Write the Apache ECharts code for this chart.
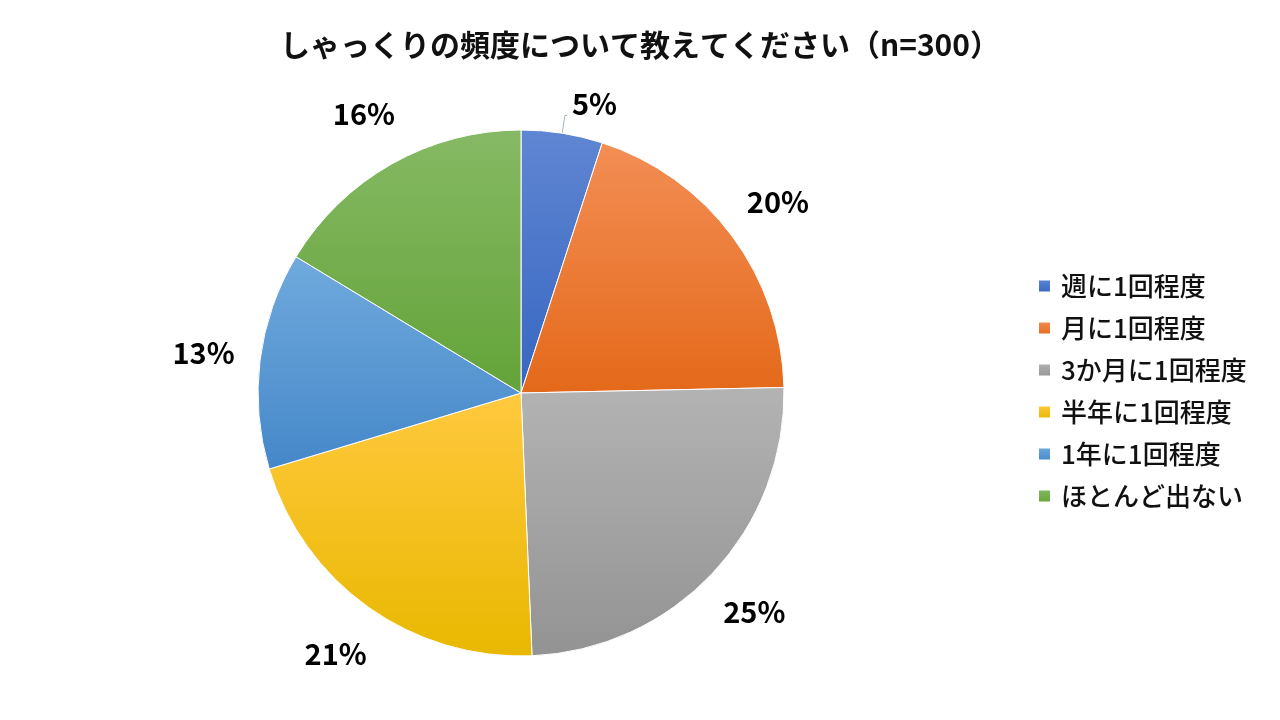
<!DOCTYPE html>
<html>
<head>
<meta charset="utf-8">
<script src="https://cdn.jsdelivr.net/npm/echarts@6/dist/echarts.min.js"></script>
<style>
html,body{margin:0;padding:0;background:#fff;}
#chart{width:1280px;height:720px;}
</style>
</head>
<body>
<div id="chart"></div>
<script>
var titleText = 'しゃっくりの頻度について教えてください（n=300）';
var categories = ['週に1回程度', '月に1回程度', '3か月に1回程度', '半年に1回程度', '1年に1回程度', 'ほとんど出ない'];
// respondent counts (n = 300)
var values = [15, 59, 74, 63, 40, 49];
var topColors = ['#5F86D2', '#F38E55', '#B3B3B3', '#FFC93E', '#70AADD', '#86B964'];
var bottomColors = ['#3766C2', '#E4691A', '#939393', '#E8B800', '#4587C9', '#63A338'];

var FONT = '"Noto Sans CJK JP", "Noto Sans", sans-serif';

function grad(i) {
  return new echarts.graphic.LinearGradient(0, 0, 0, 1, [
    { offset: 0, color: topColors[i] },
    { offset: 1, color: bottomColors[i] }
  ]);
}
function pct(p) { return Math.round(p.percent) + '%'; }

var mainData = categories.map(function (name, i) {
  var item = { name: name, value: values[i], itemStyle: { color: grad(i) } };
  if (i === 0) {
    item.label = {
      show: true, position: 'outside', lineHeight: 22,
      formatter: function (p) { return pct(p) + '\n '; }
    };
    item.labelLine = { show: true, length: 18, length2: 2, lineStyle: { color: '#A3B2CC', width: 1 } };
  }
  return item;
});

var labelData = categories.map(function (name, i) {
  var item = { name: name, value: values[i] };
  if (i === 0) item.label = { show: false };
  return item;
});

var chart = echarts.init(document.getElementById('chart'));
chart.setOption({
  backgroundColor: '#fff',
  animation: false,
  title: {
    text: titleText,
    left: 'center',
    top: 25,
    textStyle: { fontFamily: FONT, fontSize: 30, fontWeight: 'bold', color: '#111' }
  },
  legend: {
    orient: 'vertical',
    left: 1032,
    top: 266,
    itemWidth: 13,
    itemHeight: 13,
    itemGap: 12,
    icon: 'rect',
    data: categories,
    textStyle: { fontFamily: FONT, fontSize: 26, fontWeight: 500, color: '#111', lineHeight: 30, padding: [0, 0, 0, 5] }
  },
  series: [
    {
      type: 'pie',
      center: [521, 393],
      radius: [0, 263],
      startAngle: 90,
      clockwise: true,
      avoidLabelOverlap: false,
      itemStyle: { borderColor: '#fff', borderWidth: 1 },
      label: {
        show: false,
        formatter: pct,
        fontFamily: FONT, fontSize: 29, fontWeight: 'bold', color: '#000'
      },
      labelLine: { show: false },
      emphasis: { disabled: true },
      data: mainData
    },
    {
      type: 'pie',
      center: [521, 393],
      radius: [263, 371],
      startAngle: 90,
      clockwise: true,
      silent: true,
      avoidLabelOverlap: false,
      itemStyle: { color: 'rgba(0,0,0,0)' },
      label: {
        show: true,
        position: 'inside',
        formatter: pct,
        fontFamily: FONT, fontSize: 29, fontWeight: 'bold', color: '#000'
      },
      labelLine: { show: false },
      emphasis: { disabled: true },
      data: labelData
    }
  ]
});
</script>
</body>
</html>
